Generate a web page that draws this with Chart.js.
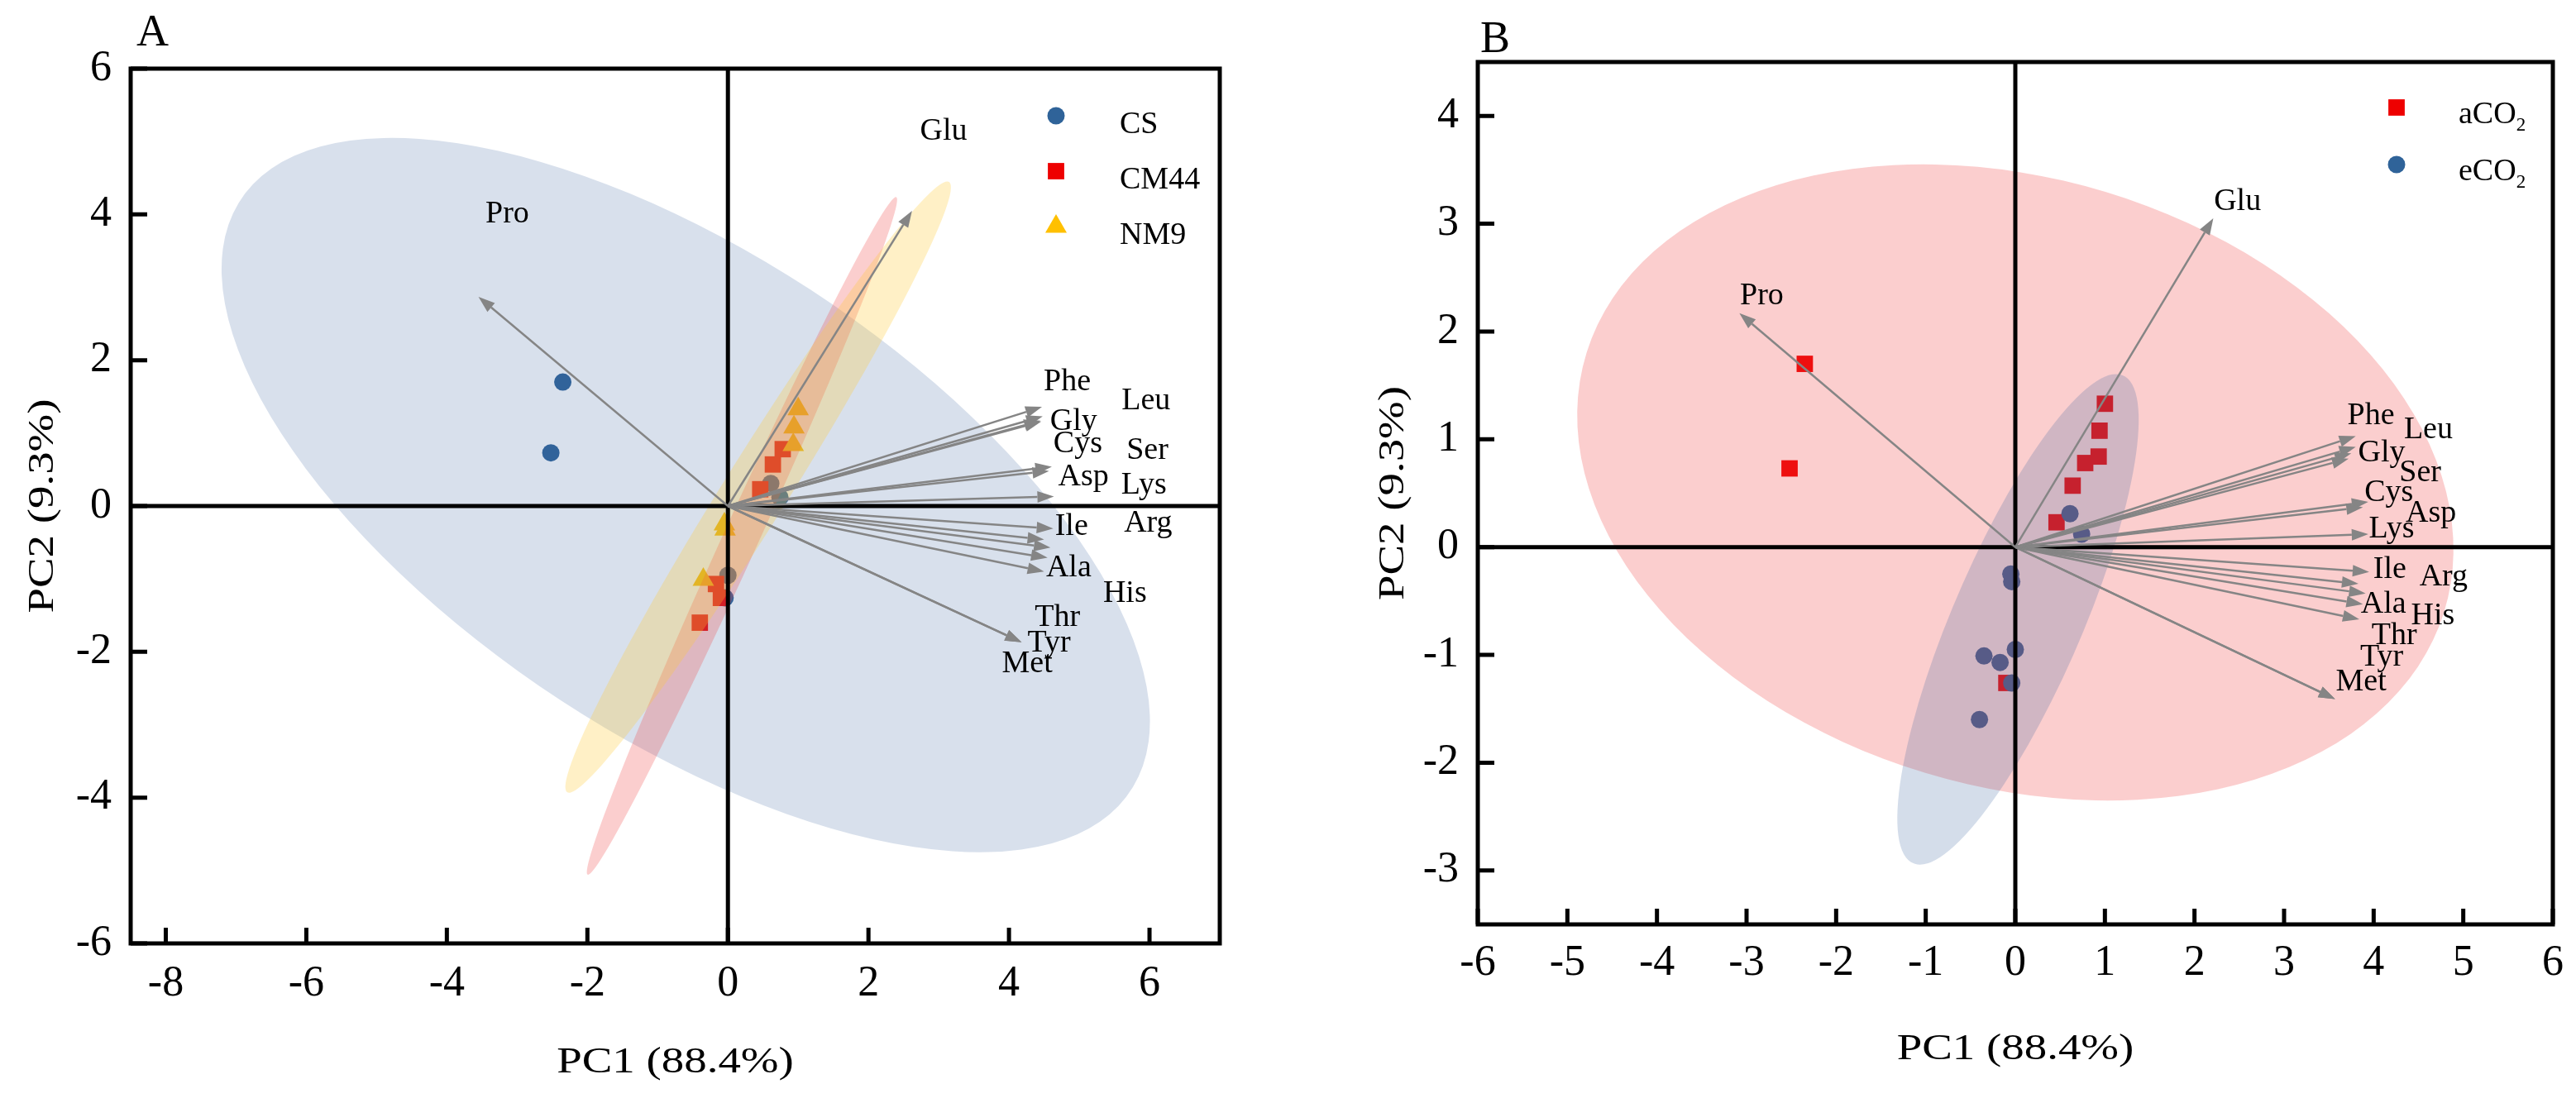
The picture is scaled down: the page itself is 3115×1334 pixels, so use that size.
<!DOCTYPE html>
<html>
<head>
<meta charset="utf-8">
<script src="https://cdn.jsdelivr.net/npm/chart.js@4.4.1/dist/chart.umd.min.js"></script>
<style>
  html, body { margin: 0; padding: 0; background: #fff; }
  #wrapA { position: absolute; left: 0; top: 0; width: 1545px; height: 1334px; }
  #wrapB { position: absolute; left: 1560px; top: 0; width: 1555px; height: 1334px; }
</style>
</head>
<body>
<div id="wrapA"><canvas id="pcaA"></canvas></div>
<div id="wrapB"><canvas id="pcaB"></canvas></div>
<script>
const SERIF = '"Liberation Serif", "Times New Roman", serif';
Chart.defaults.font.family = SERIF;
Chart.defaults.color = '#000';

// sample scores (same PCA in both panels)
const pc1 = [-2.35, -2.52, 0.61, 0.74, 0.00, -0.04, 0.78, 0.64, 0.46, -0.17, -0.10, -0.40, 1.00, 0.94, 0.93, -0.05, -0.04, -0.35];
const pc2 = [1.70, 0.73, 0.31, 0.12, -0.95, -1.26, 0.78, 0.57, 0.23, -1.07, -1.26, -1.60, 1.33, 1.08, 0.84, -0.25, -0.32, -1.01];
const cultivar = ['CS', 'CS', 'CS', 'CS', 'CS', 'CS',
  'CM44', 'CM44', 'CM44', 'CM44', 'CM44', 'CM44',
  'NM9', 'NM9', 'NM9', 'NM9', 'NM9', 'NM9'];
const co2 = ['aCO2', 'aCO2', 'eCO2', 'eCO2', 'eCO2', 'eCO2',
  'aCO2', 'aCO2', 'aCO2', 'eCO2', 'aCO2', 'eCO2',
  'aCO2', 'aCO2', 'aCO2', 'eCO2', 'eCO2', 'eCO2'];

// amino acid loadings
const aminoAcids = ['Pro', 'Glu', 'Phe', 'Leu', 'Gly', 'Ser', 'Cys', 'Asp', 'Lys', 'Ile', 'Arg', 'Ala', 'His', 'Thr', 'Tyr', 'Met'];
const loadA_x = [-3.55, 2.62, 4.47, 4.48, 4.46, 4.45, 4.61, 4.57, 4.64, 4.63, 4.50, 4.59, 4.55, 4.50, 4.18, 4.18];
const loadA_y = [2.87, 4.05, 1.36, 1.23, 1.16, 1.17, 0.54, 0.48, 0.13, -0.31, -0.46, -0.57, -0.71, -0.90, -1.87, -1.87];
const labelA_x = [-3.14, 3.07, 4.83, 5.95, 4.92, 5.97, 4.98, 5.06, 5.92, 4.89, 5.98, 4.85, 5.65, 4.69, 4.57, 4.26];
const labelA_y = [4.00, 5.14, 1.70, 1.44, 1.16, 0.76, 0.85, 0.40, 0.28, -0.28, -0.24, -0.85, -1.20, -1.53, -1.88, -2.17];

const loadB_x = [-3.08, 2.21, 3.80, 3.80, 3.75, 3.72, 3.94, 3.88, 3.94, 3.95, 3.83, 3.91, 3.88, 3.84, 3.57, 3.57];
const loadB_y = [2.17, 3.05, 1.03, 0.93, 0.87, 0.82, 0.42, 0.37, 0.12, -0.23, -0.34, -0.43, -0.53, -0.67, -1.41, -1.41];
const labelB_x = [-2.83, 2.48, 3.97, 4.61, 4.09, 4.52, 4.17, 4.64, 4.20, 4.18, 4.78, 4.11, 4.66, 4.23, 4.09, 3.86];
const labelB_y = [2.33, 3.20, 1.22, 1.09, 0.87, 0.69, 0.50, 0.31, 0.17, -0.21, -0.28, -0.53, -0.64, -0.82, -1.02, -1.25];

// confidence ellipses (data units, angle in degrees)
const ellGroupsA = ['CS', 'CM44', 'NM9'];
const ellCxA = [-0.60, 0.20, 0.43];
const ellCyA = [0.15, -0.41, 0.26];
const ellMajorA = [7.52, 5.14, 4.99];
const ellMinorA = [3.33, 0.25, 0.45];
const ellAngleA = [-32.2, 64.7, 57.0];

const ellGroupsB = ['aCO2', 'eCO2'];
const ellCxB = [0.00, 0.03];
const ellCyB = [0.60, -0.67];
const ellMajorB = [4.95, 2.55];
const ellMinorB = [2.85, 0.70];
const ellAngleB = [-10.9, 62.0];

// ticks
const xTicksA = [-8, -6, -4, -2, 0, 2, 4, 6];
const yTicksA = [-6, -4, -2, 0, 2, 4, 6];
const xTicksB = [-6, -5, -4, -3, -2, -1, 0, 1, 2, 3, 4, 5, 6];
const yTicksB = [-3, -2, -1, 0, 1, 2, 3, 4];

const xTitle = 'PC1 (88.4%)';
const yTitle = 'PC2 (9.3%)';

const groupStyle = {
  CS:   { color: '#2F6399', shape: 'circle',   r: 10.5, fill: 'rgba(60,100,160,0.20)', label: 'CS' },
  CM44: { color: '#EE0000', shape: 'rect',     r: 14,   fill: 'rgba(240,60,60,0.25)',  label: 'CM44' },
  NM9:  { color: '#FFC000', shape: 'triangle', r: 15,   fill: 'rgba(255,200,50,0.28)', label: 'NM9' },
  aCO2: { color: '#EE0000', shape: 'rect',     r: 14,   fill: 'rgba(240,60,60,0.25)',  label: 'aCO', sub: '2' },
  eCO2: { color: '#2F6399', shape: 'circle',   r: 10.5, fill: 'rgba(60,100,160,0.22)', label: 'eCO', sub: '2' }
};

function groupPoints(groupArr, g) {
  const pts = [];
  groupArr.forEach((v, i) => { if (v === g) pts.push({ x: pc1[i], y: pc2[i] }); });
  return pts;
}

function drawMarker(ctx, shape, x, y, r, color) {
  ctx.fillStyle = color;
  ctx.beginPath();
  if (shape === 'circle') {
    ctx.arc(x, y, r, 0, Math.PI * 2);
  } else if (shape === 'rect') {
    const s = r * Math.SQRT1_2;
    ctx.rect(x - s, y - s, 2 * s, 2 * s);
  } else {
    ctx.moveTo(x, y - r);
    ctx.lineTo(x + r * Math.sin(Math.PI * 2 / 3), y - r * Math.cos(Math.PI * 2 / 3));
    ctx.lineTo(x + r * Math.sin(Math.PI * 4 / 3), y - r * Math.cos(Math.PI * 4 / 3));
    ctx.closePath();
  }
  ctx.fill();
}

function drawArrow(ctx, x0, y0, x1, y1) {
  const ang = Math.atan2(y1 - y0, x1 - x0);
  const L = 20, W = 7;
  const bx = x1 - L * Math.cos(ang), by = y1 - L * Math.sin(ang);
  ctx.beginPath();
  ctx.moveTo(x0, y0);
  ctx.lineTo(bx, by);
  ctx.stroke();
  ctx.beginPath();
  ctx.moveTo(x1, y1);
  ctx.lineTo(bx + W * Math.sin(ang), by - W * Math.cos(ang));
  ctx.lineTo(bx - W * Math.sin(ang), by + W * Math.cos(ang));
  ctx.closePath();
  ctx.fill();
}

// axis titles in the source are a little wider than plain Times, so stretch them
function drawStretched(ctx, text, cx, cy, rot) {
  ctx.save();
  ctx.translate(cx, cy);
  ctx.rotate(rot);
  ctx.scale(1.22, 1);
  ctx.font = '45px ' + SERIF;
  ctx.textAlign = 'center';
  ctx.textBaseline = 'middle';
  ctx.fillStyle = '#000';
  ctx.fillText(text, 0, 0);
  ctx.restore();
}

// ellipses, loadings, labels, frame, tick labels and legend drawn on top of the points
const biplotPlugin = {
  id: 'biplot',
  afterDatasetsDraw(chart, args, opts) {
    const { ctx, chartArea: ca, scales: { x, y } } = chart;
    const sx = x.getPixelForValue(1) - x.getPixelForValue(0);
    const sy = y.getPixelForValue(0) - y.getPixelForValue(1);

    ctx.save();
    ctx.beginPath();
    ctx.rect(ca.left, ca.top, ca.right - ca.left, ca.bottom - ca.top);
    ctx.clip();
    opts.ellipses.groups.forEach((g, i) => {
      ctx.save();
      ctx.translate(x.getPixelForValue(opts.ellipses.cx[i]), y.getPixelForValue(opts.ellipses.cy[i]));
      ctx.scale(sx, -sy);
      ctx.rotate(opts.ellipses.angle[i] * Math.PI / 180);
      ctx.beginPath();
      ctx.ellipse(0, 0, opts.ellipses.major[i], opts.ellipses.minor[i], 0, 0, Math.PI * 2);
      ctx.restore();
      ctx.fillStyle = groupStyle[g].fill;
      ctx.fill();
    });
    ctx.restore();

    // zero lines
    ctx.save();
    ctx.strokeStyle = '#000';
    ctx.lineWidth = 5;
    const x0 = x.getPixelForValue(0), y0 = y.getPixelForValue(0);
    ctx.beginPath();
    ctx.moveTo(x0, ca.top); ctx.lineTo(x0, ca.bottom);
    ctx.moveTo(ca.left, y0); ctx.lineTo(ca.right, y0);
    ctx.stroke();

    // loading arrows
    ctx.strokeStyle = '#858585';
    ctx.fillStyle = '#858585';
    ctx.lineWidth = 2.5;
    opts.load.x.forEach((lx, i) => {
      drawArrow(ctx, x0, y0, x.getPixelForValue(lx), y.getPixelForValue(opts.load.y[i]));
    });

    // loading labels
    ctx.fillStyle = '#000';
    ctx.font = '38px ' + SERIF;
    ctx.textAlign = 'center';
    ctx.textBaseline = 'middle';
    aminoAcids.forEach((name, i) => {
      ctx.fillText(name, x.getPixelForValue(opts.labels.x[i]), y.getPixelForValue(opts.labels.y[i]));
    });

    // frame
    ctx.lineWidth = 5;
    ctx.strokeStyle = '#000';
    ctx.strokeRect(ca.left, ca.top, ca.right - ca.left, ca.bottom - ca.top);

    // inward tick marks on bottom and left axes
    ctx.beginPath();
    x.ticks.forEach(t => {
      const px = x.getPixelForValue(t.value);
      ctx.moveTo(px, ca.bottom); ctx.lineTo(px, ca.bottom - 19);
    });
    y.ticks.forEach(t => {
      const py = y.getPixelForValue(t.value);
      ctx.moveTo(ca.left, py); ctx.lineTo(ca.left + 20, py);
    });
    ctx.stroke();

    // tick labels
    ctx.font = '52px ' + SERIF;
    ctx.fillStyle = '#000';
    ctx.textBaseline = 'middle';
    ctx.textAlign = 'center';
    x.ticks.forEach(t => {
      ctx.fillText(String(t.value), x.getPixelForValue(t.value), ca.bottom + opts.tickLabelDy);
    });
    ctx.textAlign = 'right';
    y.ticks.forEach(t => {
      ctx.fillText(String(t.value), ca.left - 23, y.getPixelForValue(t.value));
    });

    // legend
    const lg = opts.legend;
    lg.groups.forEach((g, i) => {
      const st = groupStyle[g];
      const mx = ca.right - lg.fromRight;
      const my = ca.top + lg.fromTop + i * lg.step;
      drawMarker(ctx, st.shape, mx, my, st.r, st.color);
      ctx.fillStyle = '#000';
      ctx.textAlign = 'left';
      ctx.textBaseline = 'alphabetic';
      ctx.font = '38px ' + SERIF;
      const tx = mx + lg.textDx, ty = my + lg.textDy;
      ctx.fillText(st.label, tx, ty);
      if (st.sub) {
        const w = ctx.measureText(st.label).width;
        ctx.font = '23px ' + SERIF;
        ctx.fillText(st.sub, tx + w, ty + 9);
      }
    });

    // axis titles
    drawStretched(ctx, xTitle, (ca.left + ca.right) / 2, ca.bottom + opts.titles.xDy, 0);
    drawStretched(ctx, yTitle, ca.left - opts.titles.yDx, (ca.top + ca.bottom) / 2, -Math.PI / 2);

    // panel letter
    ctx.font = '54px ' + SERIF;
    ctx.textAlign = 'left';
    ctx.textBaseline = 'alphabetic';
    ctx.fillStyle = '#000';
    ctx.fillText(opts.panel.text, ca.left + opts.panel.dx, opts.panel.y);
    ctx.restore();
  }
};

function makePanel(canvasId, cfg) {
  const datasets = cfg.groups.map((g, i) => ({
    label: g,
    data: groupPoints(cfg.groupArr, g),
    pointStyle: groupStyle[g].shape,
    pointRadius: groupStyle[g].r,
    pointHoverRadius: groupStyle[g].r,
    backgroundColor: groupStyle[g].color,
    borderWidth: 0,
    order: cfg.order[i]
  }));

  return new Chart(document.getElementById(canvasId), {
    type: 'scatter',
    data: { datasets },
    options: {
      responsive: true,
      maintainAspectRatio: false,
      animation: false,
      events: [],
      layout: { padding: cfg.padding },
      plugins: {
        legend: { display: false },
        tooltip: { enabled: false },
        biplot: cfg.biplot
      },
      scales: {
        x: {
          type: 'linear',
          min: cfg.xRange[0],
          max: cfg.xRange[1],
          grid: { display: false, drawTicks: false },
          border: { display: false },
          ticks: { display: false },
          afterBuildTicks: s => { s.ticks = cfg.xTicks.map(v => ({ value: v })); },
          afterFit: s => { s.height = cfg.xHeight; },
          title: { display: false }
        },
        y: {
          type: 'linear',
          min: cfg.yRange[0],
          max: cfg.yRange[1],
          grid: { display: false, drawTicks: false },
          border: { display: false },
          ticks: { display: false },
          afterBuildTicks: s => { s.ticks = cfg.yTicks.map(v => ({ value: v })); },
          afterFit: s => { s.width = cfg.yWidth; },
          title: { display: false }
        }
      }
    },
    plugins: [biplotPlugin]
  });
}

makePanel('pcaA', {
  groups: ['CS', 'CM44', 'NM9'],
  groupArr: cultivar,
  order: [2, 1, 0],
  padding: { left: 0, top: 83, right: 70, bottom: 0 },
  xRange: [-8.5, 7], yRange: [-6, 6],
  xTicks: xTicksA, yTicks: yTicksA,
  xHeight: 193, yWidth: 158,
  biplot: {
    ellipses: { groups: ellGroupsA, cx: ellCxA, cy: ellCyA, major: ellMajorA, minor: ellMinorA, angle: ellAngleA },
    load: { x: loadA_x, y: loadA_y },
    labels: { x: labelA_x, y: labelA_y },
    legend: { groups: ['CS', 'CM44', 'NM9'], fromRight: 198, fromTop: 57, step: 67, textDx: 77, textDy: 21 },
    tickLabelDy: 49,
    titles: { xDy: 144, yDx: 106 },
    panel: { text: 'A', dx: 7, y: 55 }
  }
});

makePanel('pcaB', {
  groups: ['aCO2', 'eCO2'],
  groupArr: co2,
  order: [1, 0],
  padding: { left: 0, top: 75, right: 28, bottom: 0 },
  xRange: [-6, 6], yRange: [-3.5, 4.5],
  xTicks: xTicksB, yTicks: yTicksB,
  xHeight: 216, yWidth: 227,
  biplot: {
    ellipses: { groups: ellGroupsB, cx: ellCxB, cy: ellCyB, major: ellMajorB, minor: ellMinorB, angle: ellAngleB },
    load: { x: loadB_x, y: loadB_y },
    labels: { x: labelB_x, y: labelB_y },
    legend: { groups: ['aCO2', 'eCO2'], fromRight: 189, fromTop: 55, step: 69, textDx: 75, textDy: 19 },
    tickLabelDy: 47,
    titles: { xDy: 151, yDx: 102 },
    panel: { text: 'B', dx: 3, y: 63 }
  }
});
</script>
</body>
</html>
